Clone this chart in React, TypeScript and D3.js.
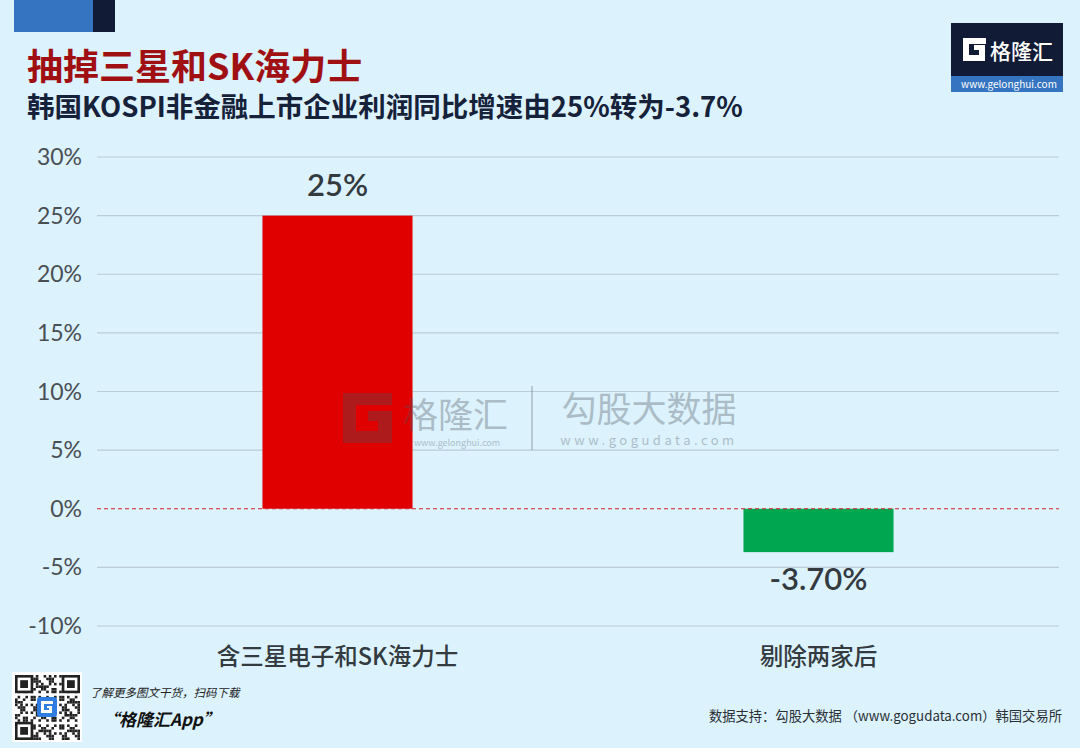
import { useEffect, useRef } from 'react';
import * as d3 from 'd3';

const categories = ['含三星电子和SK海力士', '剔除两家后'];
const values = [25, -3.7];
const valueLabels = ['25%', '-3.70%'];
const barColors = ['#e00000', '#00a650'];
const tickValues = [30, 25, 20, 15, 10, 5, 0, -5, -10];

const W = 1080;
const H = 748;
const CJK = '"Noto Sans CJK SC", "Noto Sans", sans-serif';
const LATIN = 'Lato, "Noto Sans CJK SC", sans-serif';

const App = () => {
  const svgRef = useRef<SVGSVGElement>(null);

  useEffect(() => {
    if (!svgRef.current) return;
    const svg = d3.select(svgRef.current);
    svg.selectAll('*').remove();

    // background
    svg.append('rect').attr('width', W).attr('height', H).attr('fill', '#dcf2fd');

    // header blocks
    svg.append('rect').attr('x', 14).attr('y', 0).attr('width', 79).attr('height', 32).attr('fill', '#3574c0');
    svg.append('rect').attr('x', 93).attr('y', 0).attr('width', 22).attr('height', 32).attr('fill', '#121b36');

    svg.append('text')
      .attr('x', 27).attr('y', 80)
      .attr('fill', '#a00f12')
      .style('font-family', CJK).style('font-size', '36px').style('font-weight', 700)
      .text('抽掉三星和SK海力士');
    svg.append('text')
      .attr('x', 27).attr('y', 117)
      .attr('fill', '#16213a')
      .style('font-family', CJK).style('font-size', '27.5px').style('font-weight', 700)
      .text('韩国KOSPI非金融上市企业利润同比增速由25%转为-3.7%');

    // logo top right
    const logo = svg.append('g');
    logo.append('rect').attr('x', 951).attr('y', 23).attr('width', 112).attr('height', 69).attr('fill', '#121b36');
    logo.append('rect').attr('x', 951).attr('y', 76).attr('width', 112).attr('height', 16).attr('fill', '#3574c0');
    logo.append('path')
      .attr('d', 'M963,38 h23 v6 h-17 v11 h10 v-5 h-5 v-5 h11 v16 h-22 z')
      .attr('fill', '#ffffff');
    logo.append('text').attr('x', 990).attr('y', 59)
      .attr('fill', '#ffffff')
      .style('font-family', CJK).style('font-size', '21px').style('font-weight', 500)
      .text('格隆汇');
    logo.append('text').attr('x', 1009).attr('y', 88).attr('text-anchor', 'middle')
      .attr('fill', '#ffffff')
      .style('font-family', CJK).style('font-size', '10px')
      .text('www.gelonghui.com');

    // chart
    const left = 97, right = 1059;
    const y = d3.scaleLinear().domain([-10, 30]).range([626, 157]);
    const x = d3.scaleBand<string>().domain(categories).range([left, right])
      .paddingInner(0.688).paddingOuter(0.344);

    svg.append('g').selectAll('line')
      .data(tickValues.filter(t => t !== 0))
      .join('line')
      .attr('x1', left).attr('x2', right)
      .attr('y1', d => y(d)).attr('y2', d => y(d))
      .attr('stroke', '#b9ccd8').attr('stroke-width', 1.2);

    svg.append('g').selectAll('text')
      .data(tickValues)
      .join('text')
      .attr('x', 82).attr('y', d => y(d) + 8)
      .attr('text-anchor', 'end')
      .attr('fill', '#4a4f55')
      .style('font-family', LATIN).style('font-size', '23px')
      .text(d => `${d}%`);

    // bars
    svg.append('g').selectAll('rect')
      .data(values)
      .join('rect')
      .attr('x', (_, i) => x(categories[i])!)
      .attr('width', x.bandwidth())
      .attr('y', d => y(Math.max(0, d)))
      .attr('height', d => Math.abs(y(d) - y(0)))
      .attr('fill', (_, i) => barColors[i]);

    // watermark (over the bars)
    const wm = svg.append('g').attr('opacity', 0.33);
    const wmColor = '#4a5258';
    wm.append('path')
      .attr('d', 'M343,393 h49 v12 h-36 v26 h22 v-10 h-10 v-10 h24 v32 h-49 z')
      .attr('fill', wmColor);
    wm.append('text').attr('x', 403).attr('y', 428)
      .attr('fill', wmColor)
      .style('font-family', CJK).style('font-size', '35px')
      .text('格隆汇');
    wm.append('text').attr('x', 457).attr('y', 446).attr('text-anchor', 'middle')
      .attr('fill', wmColor)
      .style('font-family', CJK).style('font-size', '9px')
      .text('www.gelonghui.com');
    wm.append('line').attr('x1', 532).attr('x2', 532).attr('y1', 386).attr('y2', 450)
      .attr('stroke', wmColor).attr('stroke-width', 1.5);
    wm.append('text').attr('x', 649).attr('y', 422).attr('text-anchor', 'middle')
      .attr('fill', wmColor)
      .style('font-family', CJK).style('font-size', '35px')
      .text('勾股大数据');
    wm.append('text').attr('x', 649).attr('y', 445).attr('text-anchor', 'middle')
      .attr('fill', wmColor)
      .style('font-family', CJK).style('font-size', '13px').style('letter-spacing', '3.5px')
      .text('www.gogudata.com');

    // zero line
    svg.append('line')
      .attr('x1', left).attr('x2', right)
      .attr('y1', y(0)).attr('y2', y(0))
      .attr('stroke', '#d8222c').attr('stroke-width', 1)
      .attr('stroke-dasharray', '4,3');

    // value labels
    svg.append('g').selectAll('text')
      .data(values)
      .join('text')
      .attr('x', (_, i) => x(categories[i])! + x.bandwidth() / 2)
      .attr('y', d => d >= 0 ? y(d) - 20 : y(d) + 38)
      .attr('text-anchor', 'middle')
      .attr('fill', '#333a40')
      .style('font-family', LATIN).style('font-size', '31px').style('font-weight', 600)
      .text((_, i) => valueLabels[i]);

    // category labels
    svg.append('g').selectAll('text')
      .data(categories)
      .join('text')
      .attr('x', d => x(d)! + x.bandwidth() / 2)
      .attr('y', 665)
      .attr('text-anchor', 'middle')
      .attr('fill', '#333a40')
      .style('font-family', CJK).style('font-size', '23.5px').style('font-weight', 500)
      .text(d => d);

    // QR code block (decorative)
    const qr = svg.append('g');
    qr.append('rect').attr('x', 12).attr('y', 672).attr('width', 70).attr('height', 70).attr('fill', '#ffffff');
    const cell = 2.6;
    for (let r = 0; r < 25; r++) {
      for (let c = 0; c < 25; c++) {
        const h = ((r * 31 + c * 17 + r * c * 7) % 11);
        if (h < 5) {
          qr.append('rect')
            .attr('x', 15 + c * cell).attr('y', 675 + r * cell)
            .attr('width', cell).attr('height', cell).attr('fill', '#222');
        }
      }
    }
    [[15, 675], [15 + 18 * cell, 675], [15, 675 + 18 * cell]].forEach(([fx, fy]) => {
      qr.append('rect').attr('x', fx).attr('y', fy).attr('width', 7 * cell).attr('height', 7 * cell).attr('fill', '#222');
      qr.append('rect').attr('x', fx + cell).attr('y', fy + cell).attr('width', 5 * cell).attr('height', 5 * cell).attr('fill', '#fff');
      qr.append('rect').attr('x', fx + 2 * cell).attr('y', fy + 2 * cell).attr('width', 3 * cell).attr('height', 3 * cell).attr('fill', '#222');
    });
    qr.append('rect').attr('x', 37).attr('y', 697).attr('width', 20).attr('height', 20).attr('rx', 3).attr('fill', '#2f7de0');
    qr.append('path').attr('d', 'M41,701 h12 v3 h-9 v6 h5 v-2 h-2 v-2 h5 v7 h-11 z').attr('fill', '#fff');

    svg.append('text').attr('x', 90).attr('y', 697)
      .attr('fill', '#222')
      .style('font-family', CJK).style('font-size', '11.5px').style('font-style', 'italic')
      .text('了解更多图文干货，扫码下载');
    svg.append('text').attr('x', 102).attr('y', 726)
      .attr('fill', '#111')
      .style('font-family', CJK).style('font-size', '17px').style('font-weight', 700).style('font-style', 'italic')
      .text('“格隆汇App”');

    svg.append('text').attr('x', 1062).attr('y', 721).attr('text-anchor', 'end')
      .attr('fill', '#2a2f35')
      .style('font-family', CJK).style('font-size', '13.3px')
      .text('数据支持：勾股大数据 （www.gogudata.com）韩国交易所');
  }, []);

  return (
    <svg ref={svgRef} width={W} height={H}
      style={{ display: 'block', position: 'absolute', left: 0, top: 0 }} />
  );
};

export default App;
